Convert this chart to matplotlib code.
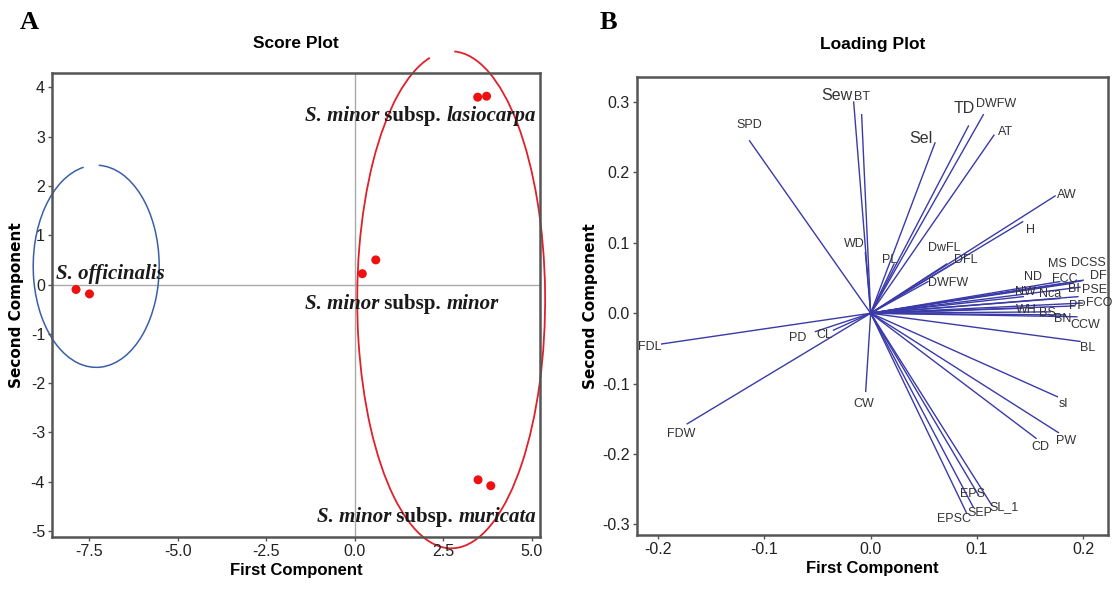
import numpy as np
import matplotlib
matplotlib.use('Agg')
import matplotlib.pyplot as plt
import matplotlib.font_manager as fm
from matplotlib.patches import Arc

plt.rcParams['axes.unicode_minus'] = False

# pick a narrow sans for ticks / axis titles if there is one
names_avail = {f.name for f in fm.fontManager.ttflist}
narrow = 'Liberation Sans Narrow' if 'Liberation Sans Narrow' in names_avail else 'Liberation Sans'
serif = 'Liberation Serif'

# ---- score plot data (PC1, PC2) ----
offic_x = [-7.87, -7.49]
offic_y = [-0.10, -0.19]
lasio_x = [3.48, 3.73]
lasio_y = [3.80, 3.82]
minor_x = [0.22, 0.60]
minor_y = [0.22, 0.50]
muric_x = [3.49, 3.85]
muric_y = [-3.96, -4.08]

score_xticks = [-7.5, -5.0, -2.5, 0.0, 2.5, 5.0]
score_yticks = [4, 3, 2, 1, 0, -1, -2, -3, -4, -5]

# ---- loading plot data ----
var_names = ['SPD', 'Sew', 'BT', 'WD', 'PL', 'Sel', 'TD', 'DWFW', 'AT', 'AW', 'H',
             'DwFL', 'DFL', 'DWFW', 'MS', 'DCSS', 'DF', 'ND', 'FCC', 'NW', 'Nca',
             'BI', 'PSE', 'PP', 'FCO', 'WH', 'BS', 'BN', 'CCW', 'BL', 'FDL', 'PD',
             'CL', 'CW', 'FDW', 'sl', 'PW', 'CD', 'EPS', 'SEP', 'EPSC', 'SL_1']
pc1 = [-0.114, -0.016, -0.0085, -0.005, 0.022, 0.0605, 0.092, 0.106, 0.116, 0.1735, 0.143,
       0.0715, 0.078, 0.054, 0.178, 0.200, 0.1985, 0.153, 0.190, 0.1436, 0.178,
       0.197, 0.195, 0.192, 0.199, 0.142, 0.169, 0.183, 0.194, 0.197, -0.1967, -0.052,
       -0.035, -0.0047, -0.1726, 0.1756, 0.1766, 0.1556, 0.1013, 0.0966, 0.0903, 0.1138]
pc2 = [0.245, 0.300, 0.282, 0.086, 0.070, 0.242, 0.266, 0.282, 0.253, 0.1666, 0.130,
       0.070, 0.071, 0.045, 0.045, 0.047, 0.046, 0.0355, 0.0426, 0.0236, 0.021,
       0.037, 0.0236, 0.0104, 0.0145, 0.007, 0.002, -0.0024, -0.005, -0.040, -0.0436, -0.026,
       -0.024, -0.111, -0.157, -0.1185, -0.1695, -0.1776, -0.258, -0.2756, -0.284, -0.2723]

load_xticks = [-0.2, -0.1, 0.0, 0.1, 0.2]
load_yticks = [0.3, 0.2, 0.1, 0.0, -0.1, -0.2, -0.3]

# label nudges in pixels (layout only)
lab_off = [(0, 16), (-17, 7), (0, 18), (-11, 9), (-4, 4), (-14, 4), (-4, 17), (13, 11),
           (12, 3), (12, 1), (8, -8), (-2, 16), (12, 3), (20, -1), (-2, 18), (5, 17),
           (17, 5), (0, 11), (-8, 4), (2, 5), (-10, 4), (-6, -2), (17, 7), (3, 0),
           (17, 0), (5, -2), (-3, -1), (-2, -4), (8, -8), (8, -7), (-12, -3), (-18, -6),
           (-9, -5), (-2, -13), (-6, -10), (6, -7), (8, -8), (4, -9), (-6, 1), (7, -6),
           (-13, -6), (12, -2)]
big_labels = ['Sew', 'Sel', 'TD']

frame_col = '#555555'


def style_axes(ax):
    for sp in ax.spines.values():
        sp.set_color(frame_col)
        sp.set_linewidth(1.8)
    ax.tick_params(direction='out', length=3, width=1, color=frame_col,
                   labelsize=11.5, labelcolor='#222222', pad=2)
    for lab in ax.get_xticklabels() + ax.get_yticklabels():
        lab.set_family(narrow)


def rich(ax, x, y, parts, size=15):
    t = ax.text(x, y, parts[0][0], fontsize=size, family=serif, weight='bold',
                style=parts[0][1], va='baseline', ha='left', color='#1a1a1a')
    for txt, st in parts[1:]:
        t = ax.annotate(txt, xy=(1, 0), xycoords=t, va='bottom', ha='left',
                        fontsize=size, family=serif, weight='bold', style=st,
                        color='#1a1a1a')
    return t


fig = plt.figure(figsize=(11.15, 5.96), dpi=100)
fig.patch.set_facecolor('white')

# ---------------- panel A ----------------
axA = fig.add_axes([0.0466, 0.099, 0.4377, 0.7785])
axA.axhline(0, color='#aaaaaa', lw=1, zorder=1)
axA.axvline(0, color='#aaaaaa', lw=1, zorder=1)
for xs, ys in [(offic_x, offic_y), (lasio_x, lasio_y), (minor_x, minor_y), (muric_x, muric_y)]:
    axA.scatter(xs, ys, s=42, color='#ee1111', zorder=3, edgecolor='none')

axA.add_patch(Arc((-7.3, 0.37), 3.56, 4.1, theta1=100, theta2=448,
                  color='#3a5fa8', lw=1.1, clip_on=False))
axA.add_patch(Arc((2.73, -0.31), 5.31, 10.08, theta1=97, theta2=449,
                  color='#e0202a', lw=1.3, clip_on=False))

rich(axA, -8.43, 0.12, [('S. officinalis', 'italic')])
rich(axA, -1.40, 3.31, [('S. minor', 'italic'), (' subsp. ', 'normal'), ('lasiocarpa', 'italic')])
rich(axA, -1.40, -0.49, [('S. minor', 'italic'), (' subsp. ', 'normal'), ('minor', 'italic')])
rich(axA, -1.06, -4.81, [('S. minor', 'italic'), (' subsp. ', 'normal'), ('muricata', 'italic')])

axA.set_xlim(-8.55, 5.24)
axA.set_ylim(-5.12, 4.29)
axA.set_xticks(score_xticks)
axA.set_xticklabels(['%.1f' % v for v in score_xticks])
axA.set_yticks(score_yticks)
axA.set_yticklabels([str(v) for v in score_yticks])
style_axes(axA)
axA.set_xlabel('First Component', family=narrow, weight='bold', fontsize=12, labelpad=3)
axA.set_ylabel('Second Component', family='DejaVu Sans', weight='bold', fontsize=11, labelpad=5)
axA.set_title('Score Plot', family=narrow, weight='bold', fontsize=12.5, pad=18)

# ---------------- panel B ----------------
axB = fig.add_axes([0.571, 0.1023, 0.423, 0.769])
line_col = '#3a3aa8'
for name, x, y, off in zip(var_names, pc1, pc2, lab_off):
    axB.plot([0, x], [0, y], color=line_col, lw=1.0, zorder=2)
    fs = 11.5 if name in big_labels else 9
    axB.annotate(name, xy=(x, y), xytext=off, textcoords='offset pixels',
                 ha='center', va='center', fontsize=fs, family=narrow, color='#333333')

axB.set_xlim(-0.2202, 0.2236)
axB.set_ylim(-0.315, 0.336)
axB.set_xticks(load_xticks)
axB.set_xticklabels(['%.1f' % v for v in load_xticks])
axB.set_yticks(load_yticks)
axB.set_yticklabels(['%.1f' % v for v in load_yticks])
style_axes(axB)
axB.set_xlabel('First Component', family=narrow, weight='bold', fontsize=12, labelpad=3)
axB.set_ylabel('Second Component', family='DejaVu Sans', weight='bold', fontsize=11, labelpad=3)
axB.set_title('Loading Plot', family=narrow, weight='bold', fontsize=12.5, pad=20)

fig.text(0.018, 0.963, 'A', family=serif, weight='bold', fontsize=19, va='center')
fig.text(0.538, 0.963, 'B', family=serif, weight='bold', fontsize=19, va='center')

fig.savefig('out.png', dpi=100)
